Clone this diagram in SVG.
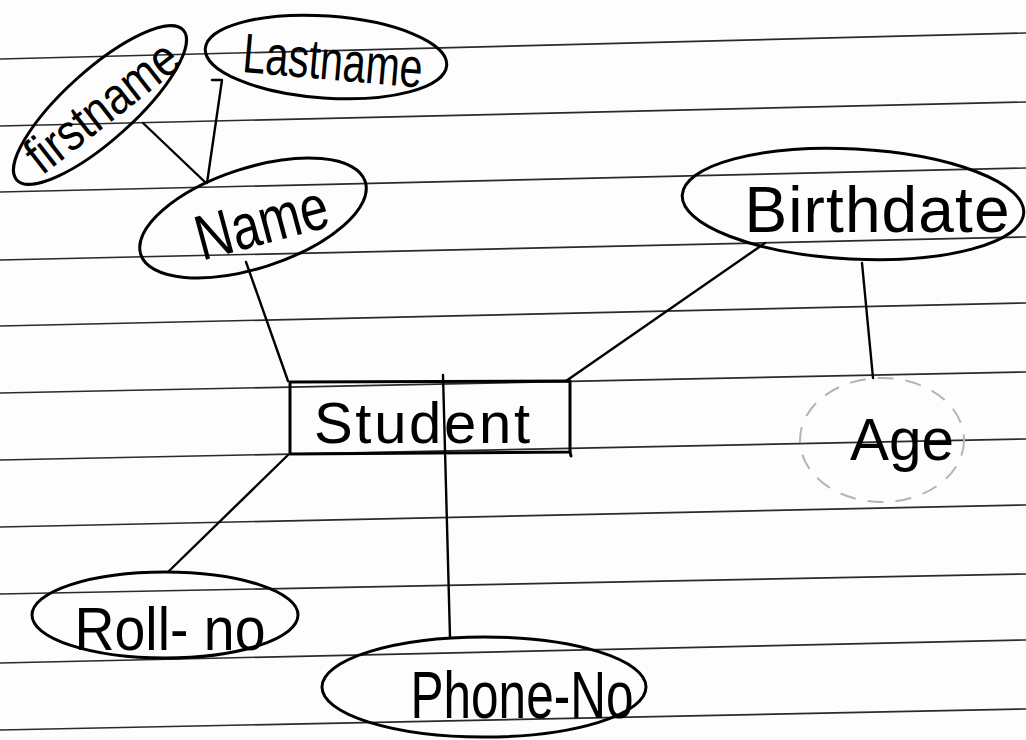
<svg xmlns="http://www.w3.org/2000/svg" width="1026" height="740" viewBox="0 0 1026 740">
  <style>
    .rule { stroke: #2a2a2a; stroke-width: 1.7; fill: none; }
    .ink { stroke: #000; stroke-width: 3; fill: none; stroke-linecap: round; stroke-linejoin: round; }
    .edge { stroke: #000; stroke-width: 2.4; fill: none; stroke-linecap: round; stroke-linejoin: round; }
    .derived { stroke: #b4b4b4; stroke-width: 2; fill: none; stroke-dasharray: 16 12; }
    .label { font-family: "Liberation Sans", "DejaVu Sans", sans-serif; fill: #000; }
  </style>

  <!-- notebook paper -->
  <rect x="0" y="0" width="1026" height="740" fill="#fdfdfd"/>
  <g id="ruled-lines">
    <line class="rule" x1="0" y1="59" x2="1026" y2="33"/>
    <line class="rule" x1="0" y1="126" x2="1026" y2="102"/>
    <line class="rule" x1="0" y1="192" x2="1026" y2="168"/>
    <line class="rule" x1="0" y1="260" x2="1026" y2="237"/>
    <line class="rule" x1="0" y1="326" x2="1026" y2="303"/>
    <line class="rule" x1="0" y1="393" x2="1026" y2="372"/>
    <line class="rule" x1="0" y1="460" x2="1026" y2="439"/>
    <line class="rule" x1="0" y1="527" x2="1026" y2="505"/>
    <line class="rule" x1="0" y1="594" x2="1026" y2="574"/>
    <line class="rule" x1="0" y1="663" x2="1026" y2="640"/>
    <line class="rule" x1="0" y1="730" x2="1026" y2="709"/>
  </g>

  <!-- attribute links -->
  <g id="connectors">
    <line class="edge" x1="143" y1="123" x2="206" y2="183"/>
    <polyline class="edge" points="212,80 222,80 207,183"/>
    <line class="edge" x1="246" y1="262" x2="288" y2="381"/>
    <line class="edge" x1="765" y1="243" x2="566" y2="381"/>
    <line class="edge" x1="862" y1="263" x2="873" y2="378"/>
    <line class="edge" x1="288" y1="455" x2="168" y2="572"/>
    <line class="edge" x1="443" y1="375" x2="450" y2="637"/>
  </g>

  <g id="firstname">
    <ellipse class="ink" cx="100" cy="105" rx="112" ry="35" transform="rotate(-42 100 105)"/>
    <text class="label" x="103" y="124" font-size="52" text-anchor="middle" textLength="180" lengthAdjust="spacingAndGlyphs" transform="rotate(-38 103 108)">firstname</text>
  </g>

  <g id="lastname">
    <ellipse class="ink" cx="326" cy="57" rx="121" ry="41" transform="rotate(4 326 57)"/>
    <text class="label" x="333" y="80" font-size="56" text-anchor="middle" textLength="180" lengthAdjust="spacingAndGlyphs" transform="rotate(5 333 60)">Lastname</text>
  </g>

  <g id="name">
    <ellipse class="ink" cx="253" cy="218" rx="118" ry="50" transform="rotate(-18 253 218)"/>
    <text class="label" x="262" y="244" font-size="64" text-anchor="middle" textLength="135" lengthAdjust="spacingAndGlyphs" transform="rotate(-15 262 224)">Name</text>
  </g>

  <g id="birthdate">
    <ellipse class="ink" cx="853" cy="204" rx="171" ry="55" transform="rotate(3 853 204)"/>
    <text class="label" x="877" y="232" font-size="64" text-anchor="middle" textLength="265" lengthAdjust="spacing">Birthdate</text>
  </g>

  <g id="age">
    <ellipse class="derived" cx="882" cy="440" rx="82" ry="62"/>
    <text class="label" x="902" y="460" font-size="60" text-anchor="middle" textLength="104" lengthAdjust="spacingAndGlyphs">Age</text>
  </g>

  <g id="student">
    <polygon class="ink" points="290,382 570,381 570,452 290,454"/>
    <line class="ink" x1="570" y1="452" x2="571" y2="456"/>
    <text class="label" x="422" y="443" font-size="58" text-anchor="middle" textLength="216" lengthAdjust="spacing">Student</text>
  </g>

  <g id="roll-no">
    <ellipse class="ink" cx="165" cy="615" rx="133" ry="43"/>
    <text class="label" x="170" y="650" font-size="62" text-anchor="middle" textLength="191" lengthAdjust="spacingAndGlyphs">Roll- no</text>
  </g>

  <g id="phone-no">
    <ellipse class="ink" cx="484" cy="687" rx="162" ry="50"/>
    <text class="label" x="522" y="718" font-size="66" text-anchor="middle" textLength="223" lengthAdjust="spacingAndGlyphs">Phone-No</text>
  </g>
</svg>
